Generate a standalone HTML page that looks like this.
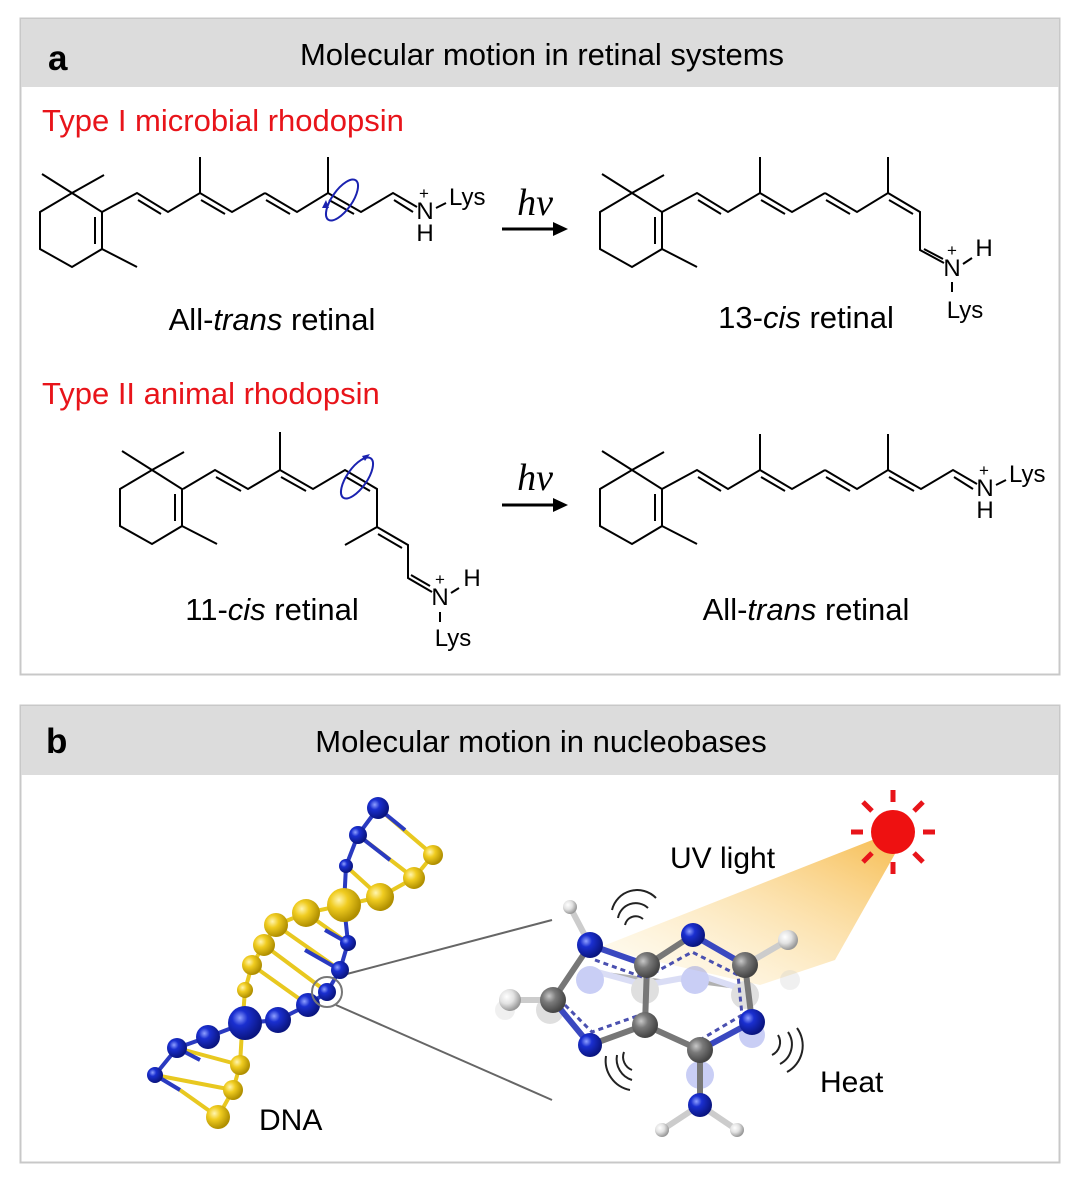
<!DOCTYPE html>
<html><head><meta charset="utf-8"><style>
body{margin:0;background:#fff;}
svg{display:block;font-family:"Liberation Sans",sans-serif;}
</style></head><body>
<svg width="1080" height="1182" viewBox="0 0 1080 1182" xmlns="http://www.w3.org/2000/svg">
<defs>
<radialGradient id="gb" cx="35%" cy="35%" r="65%"><stop offset="0" stop-color="#8fa0ff"/><stop offset="0.35" stop-color="#1a2fd0"/><stop offset="1" stop-color="#0a1580"/></radialGradient>
<radialGradient id="gy" cx="35%" cy="35%" r="65%"><stop offset="0" stop-color="#fff5b0"/><stop offset="0.4" stop-color="#f0cc20"/><stop offset="1" stop-color="#b08f00"/></radialGradient>
<radialGradient id="gg" cx="35%" cy="35%" r="65%"><stop offset="0" stop-color="#c8c8c8"/><stop offset="0.4" stop-color="#7a7a7a"/><stop offset="1" stop-color="#444"/></radialGradient>
<radialGradient id="gw" cx="35%" cy="35%" r="65%"><stop offset="0" stop-color="#fff"/><stop offset="0.5" stop-color="#e2e2e2"/><stop offset="1" stop-color="#999"/></radialGradient>
<linearGradient id="cone" x1="1" y1="0" x2="0" y2="1"><stop offset="0" stop-color="#f5b030"/><stop offset="1" stop-color="#fff6d8" stop-opacity="0.3"/></linearGradient>
<g id="ring" stroke="#000" stroke-width="2" fill="none">
<polygon points="72,193 102,212 102,249 72,267 40,249 40,212"/>
<line x1="72" y1="193" x2="42" y2="174"/><line x1="72" y1="193" x2="104" y2="175"/>
<line x1="102" y1="249" x2="137" y2="267"/><line x1="95" y1="217" x2="95" y2="244"/>
</g>
<g id="chainA" stroke="#000" stroke-width="2" fill="none">
<polyline points="102,212 137,193 168,212 200,193 232,212 265,193"/>
<line x1="200" y1="193" x2="200" y2="157"/>
<line x1="138" y1="200" x2="161" y2="214"/><line x1="201" y1="200" x2="225" y2="214"/>
</g>
<g id="tail1" stroke="#000" stroke-width="2" fill="none">
<polyline points="265,193 297,212 328,193 361,212 393,193 417,207"/>
<line x1="328" y1="193" x2="328" y2="157"/>
<line x1="266" y1="200" x2="290" y2="214"/><line x1="329" y1="200" x2="354" y2="214"/>
<line x1="394" y1="200" x2="413" y2="212"/>
<line x1="436" y1="208" x2="446" y2="203"/>
</g>
</defs>

<!-- Panel a -->
<rect x="20.5" y="18.5" width="1039" height="656" fill="#fff" stroke="#c8c8c8" stroke-width="2"/>
<rect x="21" y="19" width="1038" height="68" fill="#dcdcdc"/>
<text x="48" y="70" font-size="35" font-weight="bold">a</text>
<text x="542" y="65" font-size="31" text-anchor="middle">Molecular motion in retinal systems</text>

<text x="42" y="131" font-size="31" fill="#e8141a">Type I microbial rhodopsin</text>
<text x="42" y="404" font-size="31" fill="#e8141a">Type II animal rhodopsin</text>

<!-- mol1 -->
<use href="#ring"/><use href="#chainA"/><use href="#tail1"/>
<ellipse cx="342" cy="200" rx="10" ry="24" transform="rotate(35 342 200)" fill="none" stroke="#1a22b0" stroke-width="2"/>
<path d="M322,208 l4,-8 l3,8z" fill="#1a22b0"/>
<g font-size="24"><text x="425" y="219" text-anchor="middle">N</text><text x="424" y="199" font-size="17" text-anchor="middle">+</text>
<text x="449" y="205">Lys</text><text x="425" y="241" text-anchor="middle">H</text></g>

<!-- arrow 1 -->
<text x="535" y="215" font-size="38" font-style="italic" font-family="Liberation Serif,serif" text-anchor="middle">hν</text>
<line x1="502" y1="229" x2="555" y2="229" stroke="#000" stroke-width="3"/><path d="M568,229 l-15,-7 v14z"/>

<!-- mol2 13-cis -->
<g transform="translate(560,0)"><use href="#ring"/><use href="#chainA"/></g>
<g stroke="#000" stroke-width="2" fill="none">
<polyline points="825,193 857,212 888,193 920,212 920,250 944,263"/>
<line x1="888" y1="193" x2="888" y2="157"/>
<line x1="826" y1="200" x2="850" y2="214"/><line x1="889" y1="200" x2="913" y2="214"/>
<line x1="924" y1="249" x2="943" y2="259"/>
<line x1="963" y1="264" x2="972" y2="258"/><line x1="952" y1="282" x2="952" y2="292"/>
</g>
<g font-size="24"><text x="952" y="276" text-anchor="middle">N</text><text x="952" y="256" font-size="17" text-anchor="middle">+</text>
<text x="984" y="256" text-anchor="middle">H</text><text x="965" y="318" text-anchor="middle">Lys</text></g>

<text x="272" y="330" font-size="31" text-anchor="middle">All-<tspan font-style="italic">trans</tspan> retinal</text>
<text x="806" y="328" font-size="31" text-anchor="middle">13-<tspan font-style="italic">cis</tspan> retinal</text>

<!-- mol3 11-cis -->
<g transform="translate(80,277)"><use href="#ring"/></g>
<g stroke="#000" stroke-width="2" fill="none">
<polyline points="183,489 215,470 248,489 280,470 313,489 345,470 377,489 377,527 408,545 408,578 432,592"/>
<line x1="280" y1="470" x2="280" y2="432"/><line x1="377" y1="527" x2="345" y2="545"/>
<line x1="216" y1="477" x2="241" y2="491"/><line x1="281" y1="477" x2="306" y2="491"/>
<line x1="346" y1="477" x2="370" y2="491"/><line x1="378" y1="534" x2="402" y2="548"/>
<line x1="411" y1="575" x2="430" y2="586"/>
<line x1="451" y1="593" x2="459" y2="588"/><line x1="440" y1="612" x2="440" y2="622"/>
</g>
<ellipse cx="357" cy="478" rx="10" ry="24" transform="rotate(35 357 478)" fill="none" stroke="#1a22b0" stroke-width="2"/>
<path d="M362,456 l8,-2 l-5,7z" fill="#1a22b0"/>
<g font-size="24"><text x="440" y="605" text-anchor="middle">N</text><text x="440" y="585" font-size="17" text-anchor="middle">+</text>
<text x="472" y="586" text-anchor="middle">H</text><text x="453" y="646" text-anchor="middle">Lys</text></g>

<!-- arrow 2 -->
<text x="535" y="490" font-size="38" font-style="italic" font-family="Liberation Serif,serif" text-anchor="middle">hν</text>
<line x1="502" y1="505" x2="555" y2="505" stroke="#000" stroke-width="3"/><path d="M568,505 l-15,-7 v14z"/>

<!-- mol4 -->
<g transform="translate(560,277)"><use href="#ring"/><use href="#chainA"/><use href="#tail1"/></g>
<g font-size="24"><text x="985" y="496" text-anchor="middle">N</text><text x="984" y="476" font-size="17" text-anchor="middle">+</text>
<text x="1009" y="482">Lys</text><text x="985" y="518" text-anchor="middle">H</text></g>

<text x="272" y="620" font-size="31" text-anchor="middle">11-<tspan font-style="italic">cis</tspan> retinal</text>
<text x="806" y="620" font-size="31" text-anchor="middle">All-<tspan font-style="italic">trans</tspan> retinal</text>

<!-- Panel b -->
<rect x="20.5" y="705.5" width="1039" height="457" fill="#fff" stroke="#c8c8c8" stroke-width="2"/>
<rect x="21" y="706" width="1038" height="69" fill="#dcdcdc"/>
<text x="46" y="753" font-size="35" font-weight="bold">b</text>
<text x="541" y="752" font-size="31" text-anchor="middle">Molecular motion in nucleobases</text>

<!-- light cone & sun -->
<polygon points="885,835 598,948 760,985 835,960 900,845" fill="url(#cone)" opacity="0.85"/>
<g stroke="#e8141a" stroke-width="5">
<line x1="893" y1="790" x2="893" y2="802"/><line x1="893" y1="862" x2="893" y2="874"/>
<line x1="851" y1="832" x2="863" y2="832"/><line x1="923" y1="832" x2="935" y2="832"/>
<line x1="863" y1="802" x2="872" y2="811"/><line x1="914" y1="853" x2="923" y2="862"/>
<line x1="923" y1="802" x2="914" y2="811"/><line x1="872" y1="853" x2="863" y2="862"/>
</g>
<circle cx="893" cy="832" r="22" fill="#ee1111"/>
<text x="670" y="868" font-size="30">UV light</text>
<text x="820" y="1092" font-size="30">Heat</text>
<text x="259" y="1130" font-size="30">DNA</text>

<!-- zoom lines -->
<g stroke="#666" stroke-width="2" fill="none">
<line x1="343" y1="975" x2="552" y2="920"/><line x1="336" y1="1005" x2="552" y2="1100"/>
</g>

<!-- DNA -->
<g stroke-width="4" fill="none">
<g stroke="#e8c820">
<polyline points="433,855 414,878 380,897 344,905 306,913 276,925 264,945 252,965 245,990 242,1030 240,1065 233,1090 218,1117"/>
<line x1="433" y1="855" x2="378" y2="808"/><line x1="414" y1="878" x2="358" y2="835"/><line x1="380" y1="897" x2="346" y2="866"/>
<line x1="306" y1="913" x2="348" y2="943"/><line x1="276" y1="925" x2="340" y2="970"/><line x1="264" y1="945" x2="327" y2="992"/><line x1="252" y1="965" x2="308" y2="1005"/>
<line x1="240" y1="1065" x2="177" y2="1048"/><line x1="233" y1="1090" x2="155" y2="1075"/><line x1="218" y1="1117" x2="180" y2="1090"/>
</g>
<g stroke="#2a3ac0">
<polyline points="378,808 358,835 346,866 344,905 348,943 340,970 327,992 308,1005 278,1020 245,1023 208,1037 177,1048 155,1075"/>
<line x1="378" y1="808" x2="405" y2="830"/><line x1="358" y1="835" x2="390" y2="860"/>
<line x1="348" y1="943" x2="325" y2="930"/><line x1="340" y1="970" x2="305" y2="950"/>
<line x1="177" y1="1048" x2="200" y2="1060"/><line x1="155" y1="1075" x2="180" y2="1090"/>
</g>
</g>
<g fill="url(#gy)">
<circle cx="433" cy="855" r="10"/><circle cx="414" cy="878" r="11"/><circle cx="380" cy="897" r="14"/><circle cx="344" cy="905" r="17"/>
<circle cx="306" cy="913" r="14"/><circle cx="276" cy="925" r="12"/><circle cx="264" cy="945" r="11"/><circle cx="252" cy="965" r="10"/>
<circle cx="245" cy="990" r="8"/><circle cx="240" cy="1065" r="10"/><circle cx="233" cy="1090" r="10"/><circle cx="218" cy="1117" r="12"/>
</g>
<g fill="url(#gb)">
<circle cx="378" cy="808" r="11"/><circle cx="358" cy="835" r="9"/><circle cx="346" cy="866" r="7"/><circle cx="348" cy="943" r="8"/>
<circle cx="340" cy="970" r="9"/><circle cx="327" cy="992" r="9"/><circle cx="308" cy="1005" r="12"/><circle cx="278" cy="1020" r="13"/>
<circle cx="245" cy="1023" r="17"/><circle cx="208" cy="1037" r="12"/><circle cx="177" cy="1048" r="10"/><circle cx="155" cy="1075" r="8"/>
</g>
<circle cx="327" cy="992" r="15" fill="none" stroke="#777" stroke-width="2"/>

<!-- purine ghost -->
<g opacity="0.3">
<g stroke="#8890e0" stroke-width="6"><polyline points="590,970 645,985 700,975 745,990"/></g>
<circle cx="590" cy="980" r="14" fill="#5060e0"/><circle cx="695" cy="980" r="14" fill="#5060e0"/>
<circle cx="645" cy="990" r="14" fill="#999"/><circle cx="745" cy="995" r="14" fill="#999"/>
<circle cx="790" cy="980" r="10" fill="#ccc"/><circle cx="505" cy="1010" r="10" fill="#ccc"/><circle cx="550" cy="1010" r="14" fill="#999"/>
<circle cx="700" cy="1075" r="14" fill="#5060e0"/><circle cx="752" cy="1035" r="13" fill="#5060e0"/>
</g>
<!-- purine bonds -->
<g stroke-width="6" stroke-linecap="round">
<line x1="590" y1="945" x2="647" y2="965" stroke="#3a48c0"/><line x1="647" y1="965" x2="693" y2="935" stroke="#777"/>
<line x1="693" y1="935" x2="745" y2="965" stroke="#3a48c0"/><line x1="745" y1="965" x2="752" y2="1022" stroke="#777"/>
<line x1="752" y1="1022" x2="700" y2="1050" stroke="#3a48c0"/><line x1="700" y1="1050" x2="645" y2="1025" stroke="#777"/>
<line x1="645" y1="1025" x2="647" y2="965" stroke="#777"/><line x1="645" y1="1025" x2="590" y2="1045" stroke="#777"/>
<line x1="590" y1="1045" x2="553" y2="1000" stroke="#3a48c0"/><line x1="553" y1="1000" x2="590" y2="945" stroke="#777"/>
<line x1="553" y1="1000" x2="510" y2="1000" stroke="#ccc"/><line x1="590" y1="945" x2="570" y2="907" stroke="#ccc"/>
<line x1="745" y1="965" x2="788" y2="940" stroke="#ccc"/><line x1="700" y1="1050" x2="700" y2="1105" stroke="#777"/>
<line x1="700" y1="1105" x2="662" y2="1130" stroke="#ccc"/><line x1="700" y1="1105" x2="737" y2="1130" stroke="#ccc"/>
</g>
<g stroke="#4a50b0" stroke-width="3" stroke-dasharray="5,4" fill="none">
<polyline points="595,960 645,978 692,952 738,975 742,1015 700,1040"/>
<polyline points="565,1005 592,1032 640,1015"/>
</g>
<circle cx="570" cy="907" r="7" fill="url(#gw)"/><circle cx="788" cy="940" r="10" fill="url(#gw)"/>
<circle cx="510" cy="1000" r="11" fill="url(#gw)"/><circle cx="662" cy="1130" r="7" fill="url(#gw)"/><circle cx="737" cy="1130" r="7" fill="url(#gw)"/>
<g fill="url(#gb)"><circle cx="590" cy="945" r="13"/><circle cx="693" cy="935" r="12"/><circle cx="752" cy="1022" r="13"/><circle cx="590" cy="1045" r="12"/><circle cx="700" cy="1105" r="12"/></g>
<g fill="url(#gg)"><circle cx="647" cy="965" r="13"/><circle cx="745" cy="965" r="13"/><circle cx="700" cy="1050" r="13"/><circle cx="645" cy="1025" r="13"/><circle cx="553" cy="1000" r="13"/></g>
<!-- vibration arcs -->
<g stroke="#222" stroke-width="2" fill="none">
<path d="M618,918 a18,18 0 0 1 30,-10"/><path d="M625,925 a11,11 0 0 1 18,-6"/><path d="M612,910 a26,26 0 0 1 44,-12"/>
<path d="M778,1035 a14,14 0 0 1 -6,20"/><path d="M788,1032 a22,22 0 0 1 -8,32"/><path d="M797,1028 a30,30 0 0 1 -10,44"/>
<path d="M632,1070 a14,14 0 0 1 -8,-18"/><path d="M632,1080 a22,22 0 0 1 -15,-25"/><path d="M630,1090 a30,30 0 0 1 -24,-34"/>
</g>
</svg>
</body></html>
